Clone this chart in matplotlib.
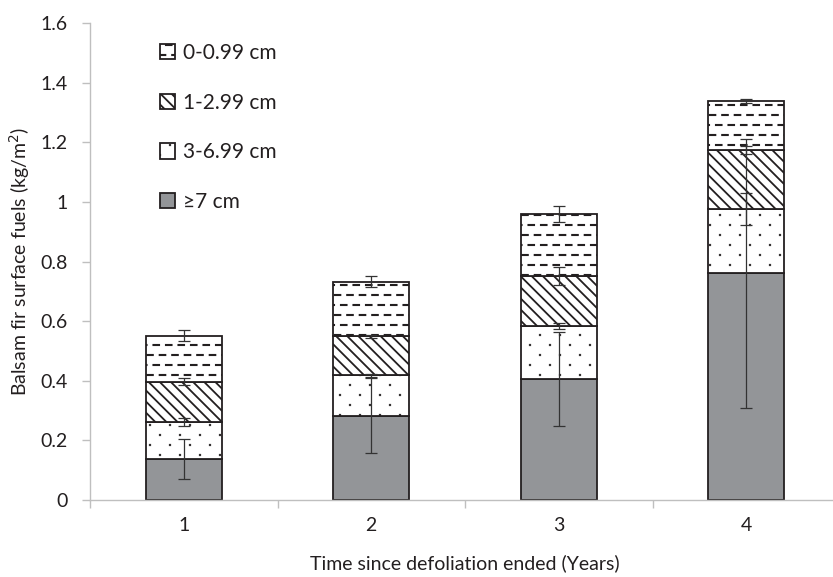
import warnings
import matplotlib
matplotlib.use('Agg')
import matplotlib.pyplot as plt
import matplotlib.hatch as mhatch
from matplotlib.path import Path
import numpy as np

warnings.filterwarnings('ignore')

# data (kg/m2), one list per size class, bottom to top
years = [1, 2, 3, 4]
fuel_ge7 = [0.137, 0.283, 0.406, 0.761]
fuel_3_7 = [0.126, 0.136, 0.178, 0.216]
fuel_1_3 = [0.134, 0.131, 0.168, 0.197]
fuel_0_1 = [0.154, 0.183, 0.207, 0.166]
err_ge7 = [0.067, 0.126, 0.158, 0.451]
err_3_7 = [0.013, 0.005, 0.011, 0.054]
err_1_3 = [0.012, 0.005, 0.030, 0.013]
err_0_1 = [0.018, 0.018, 0.027, 0.006]
labels = ['\u22657 cm', '3-6.99 cm', '1-2.99 cm', '0-0.99 cm']


# small marks on a staggered grid, used as custom hatches (dashes / dots)
class TileMarks(mhatch.HatchPatternBase):
    char = None
    rows = cols = 1
    w = h = 0.01

    def __init__(self, hatch, density):
        self.rects = []
        if hatch.count(self.char):
            for r in range(self.rows):
                y = (r + 0.5) / self.rows
                shift = 0.5 / self.cols if r % 2 else 0.0
                for c in range(self.cols + 1):
                    self.rects.append((c / self.cols + shift, y))
        self.num_vertices = 5 * len(self.rects)

    def set_vertices_and_codes(self, vertices, codes):
        hw, hh = self.w / 2, self.h / 2
        for i, (x, y) in enumerate(self.rects):
            vertices[5*i:5*i+5] = [(x - hw, y - hh), (x + hw, y - hh),
                                   (x + hw, y + hh), (x - hw, y + hh),
                                   (x - hw, y - hh)]
            codes[5*i:5*i+5] = [Path.MOVETO, Path.LINETO, Path.LINETO,
                                Path.LINETO, Path.CLOSEPOLY]


class DashMarks(TileMarks):
    char = '='
    rows, cols = 10, 8
    w, h = 0.058, 0.003


class DotMarks(TileMarks):
    char = ':'
    rows, cols = 10, 5
    w, h = 0.004, 0.004


mhatch._hatch_types.extend([DashMarks, DotMarks])

plt.rcParams['font.family'] = ['Lato', 'DejaVu Sans']
plt.rcParams['hatch.linewidth'] = 1.3
txt = '#231f20'

fig = plt.figure(figsize=(8.33, 5.77), dpi=100)
ax = fig.add_axes([90 / 833, 77 / 577, 750 / 833, 476.7 / 577])

segments = [fuel_ge7, fuel_3_7, fuel_1_3, fuel_0_1]
errors = [err_ge7, err_3_7, err_1_3, err_0_1]
faces = ['#939598', 'white', 'white', 'white']
hatches = [None, ':', chr(92) * 3, '=']

x = np.array(years)
bottom = np.zeros(len(years))
handles = []
for vals, err, fc, ht, lab in zip(segments, errors, faces, hatches, labels):
    bars = ax.bar(x, vals, width=0.405, bottom=bottom, color=fc,
                  edgecolor=txt, linewidth=1.3, hatch=ht, label=lab, zorder=2)
    handles.append(bars)
    top = bottom + np.array(vals)
    ax.errorbar(x, top, yerr=err, fmt='none', ecolor='#333333',
                elinewidth=0.9, capsize=4.5, capthick=0.9, zorder=4)
    bottom = top

ax.set_xlim(0.5, 4.5)
ax.set_ylim(0, 1.6)
ax.set_yticks(np.arange(0, 1.61, 0.2))
ax.set_yticklabels(['0', '0.2', '0.4', '0.6', '0.8', '1', '1.2', '1.4', '1.6'])
ax.set_xticks(years)
ax.set_xticks([0.5, 1.5, 2.5, 3.5], minor=True)
ax.tick_params(axis='x', which='major', length=0, pad=12, labelsize=14,
               labelcolor=txt)
ax.tick_params(axis='x', which='minor', length=6, width=1, color='#bfbfbf')
ax.tick_params(axis='y', length=6, width=1, color='#bfbfbf', pad=10,
               labelsize=14, labelcolor=txt)
for side in ['top', 'right']:
    ax.spines[side].set_visible(False)
for side in ['left', 'bottom']:
    ax.spines[side].set_color('#bfbfbf')
    ax.spines[side].set_linewidth(1)

ax.set_xlabel('Time since defoliation ended (Years)', fontsize=14, color=txt,
              labelpad=15)
ax.set_ylabel('Balsam fir surface fuels (kg/m$^2$)', fontsize=14, color=txt,
              labelpad=6)

ax.legend(handles[::-1], labels[::-1], loc='upper left',
          bbox_to_anchor=(0.093, 0.9587), frameon=False, fontsize=15,
          handlelength=0.75, handleheight=0.75, handletextpad=0.35,
          labelspacing=1.42, borderpad=0, borderaxespad=0, labelcolor=txt)

fig.savefig('out.png', dpi=100)
